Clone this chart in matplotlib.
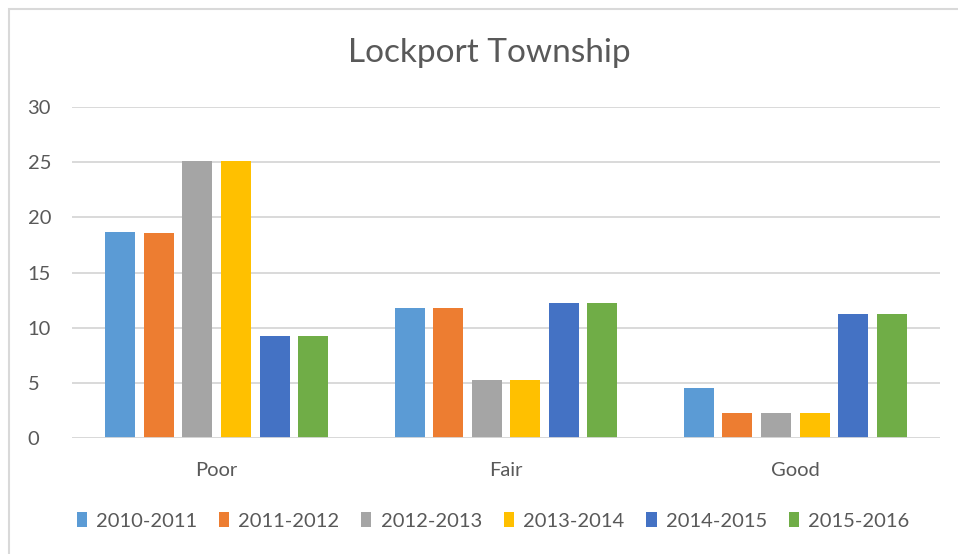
import numpy as np
import matplotlib.pyplot as plt
from matplotlib.patches import Rectangle

plt.rcParams['font.family'] = ['Lato', 'DejaVu Sans']

categories = ['Poor', 'Fair', 'Good']
seasons = ['2010-2011', '2011-2012', '2012-2013', '2013-2014', '2014-2015', '2015-2016']
values = {
    '2010-2011': [18.7, 11.75, 4.5],
    '2011-2012': [18.6, 11.75, 2.3],
    '2012-2013': [25.15, 5.3, 2.25],
    '2013-2014': [25.15, 5.3, 2.25],
    '2014-2015': [9.2, 12.25, 11.2],
    '2015-2016': [9.2, 12.25, 11.2],
}
colors = ['#5B9BD5', '#ED7D31', '#A5A5A5', '#FFC000', '#4472C4', '#70AD47']

W, H = 958, 554
fig = plt.figure(figsize=(W / 100, H / 100), dpi=100)
ax = fig.add_axes([72 / W, 1 - 438 / H, (940 - 72) / W, (438 - 107) / H])

# outer chart border (only left / top visible)
fig.patches.append(Rectangle((9 / W, -0.1), 1.2, 1.1 - 9 / H, transform=fig.transFigure,
                             fill=False, edgecolor='#d9d9d9', lw=1.5))

x = np.arange(len(categories))
pitch = 0.8 / len(seasons)
bw = 30 / 289.3
for i, s in enumerate(seasons):
    off = (i - (len(seasons) - 1) / 2) * pitch
    ax.bar(x + off, values[s], width=bw, color=colors[i], label=s, zorder=3)

ax.set_xlim(-0.5, 2.5)
ax.set_ylim(0, 30)
ax.set_yticks(range(0, 31, 5))
ax.grid(axis='y', color='#d9d9d9', lw=1.4, zorder=0)
ax.axhline(0, color='#d9d9d9', lw=2, zorder=4)
for sp in ax.spines.values():
    sp.set_visible(False)
ax.tick_params(length=0, colors='#595959', labelsize=14.5)
ax.tick_params(axis='x', pad=17)
ax.tick_params(axis='y', pad=32)
ax.set_xticks(x)
ax.set_xticklabels(categories)
for t in ax.get_yticklabels():
    t.set_horizontalalignment('left')

fig.text(489 / W, 1 - 53 / H, 'Lockport Township', ha='center', va='center',
         fontsize=24, color='#595959')

fig.legend(loc='center', bbox_to_anchor=(493 / W, 1 - 521 / H), ncol=6, frameon=False,
           fontsize=14.5, handlelength=0.5, handleheight=0.7, handletextpad=0.45,
           columnspacing=1.1, labelcolor='#595959')

fig.savefig('out.png', dpi=100)
